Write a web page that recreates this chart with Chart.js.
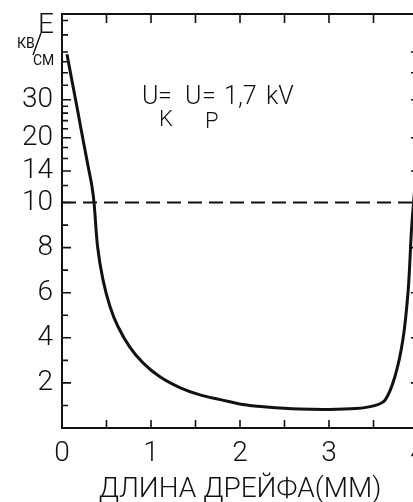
<!DOCTYPE html>
<html><head><meta charset="utf-8">
<script src="https://cdn.jsdelivr.net/npm/chart.js@4.4.1/dist/chart.umd.min.js"></script>
<style>
html,body{margin:0;padding:0;background:#fff;overflow:hidden;width:413px;height:502px;}
#wrap{position:relative;width:430px;height:502px;}
</style></head><body>
<div id="wrap"><canvas id="c" width="430" height="502"></canvas></div>
<script>
// ---- data ----
const driftMm   = [0.056, 0.109, 0.173, 0.236, 0.301, 0.335, 0.36, 0.40, 0.46, 0.54, 0.63, 0.76, 0.91, 1.10, 1.33, 1.55, 1.78, 2.03, 2.30, 2.67, 3.00, 3.30, 3.50, 3.63, 3.74, 3.83, 3.89, 3.925, 3.95, 3.98, 4.01];
const fieldKvCm = [48.8, 37.3, 27.1, 19.6, 14.2, 12.0, 10.0, 8.04, 6.58, 5.38, 4.49, 3.60, 2.89, 2.27, 1.78, 1.47, 1.26, 1.04, 0.93, 0.84, 0.82, 0.86, 0.98, 1.24, 2.27, 3.91, 6.13, 8.67, 10.0, 14.0, 20.0];
const thresholdMm   = [0, 4];
const thresholdKvCm = [10, 10];
const xTickLabels = [0, 1, 2, 3, 4];
const xMinorTicks = [0.5, 1, 1.5, 2, 2.5, 3, 3.5, 4];
const yMajorTicks = [2, 4, 6, 8, 10, 14, 20, 30];
const yMinorTicks = [1, 3, 5, 7, 9, 12, 16, 18, 22, 24, 26, 28, 35, 40, 45, 50, 60, 70];
const yRightTicks = [2, 4, 6, 8, 14, 20, 30, 40, 50];
const yTopKvCm = 75;
const annotationAt = {x: 0.9, y: 28.6};

// ---- axis: linear up to 10, logarithmic above ----
const LIN_TOP = 10, UNITS_PER_DECADE = 9.556;
function fwd(e){ return e <= LIN_TOP ? e : LIN_TOP + UNITS_PER_DECADE * Math.log10(e / LIN_TOP); }
function inv(u){ return u <= LIN_TOP ? u : LIN_TOP * Math.pow(10, (u - LIN_TOP) / UNITS_PER_DECADE); }
class BrokenScale extends Chart.LinearScale {
  static id = 'broken';
  getPixelForValue(v){ return super.getPixelForValue(fwd(v)); }
  getValueForPixel(p){ return inv(super.getValueForPixel(p)); }
}
Chart.register(BrokenScale);

const INK = '#111';
const FONT = 'Roboto';

const decor = {
  id: 'decor',
  afterDraw(chart){
    const {ctx, chartArea: a, scales: {x, y}} = chart;
    ctx.save();
    ctx.strokeStyle = INK; ctx.fillStyle = INK;
    ctx.lineWidth = 2;
    ctx.beginPath();
    ctx.moveTo(a.left - 1, a.top); ctx.lineTo(a.right, a.top); ctx.lineTo(a.right, a.bottom);
    ctx.stroke();
    ctx.lineWidth = 1.6;
    ctx.beginPath();
    yMajorTicks.forEach(v => { const p = y.getPixelForValue(v); ctx.moveTo(a.left, p); ctx.lineTo(a.left + 9, p); });
    yMinorTicks.forEach(v => { const p = y.getPixelForValue(v); ctx.moveTo(a.left, p); ctx.lineTo(a.left + 6, p); });
    yRightTicks.forEach(v => { const p = y.getPixelForValue(v); ctx.moveTo(a.right, p); ctx.lineTo(a.right - 7, p); });
    xMinorTicks.forEach(v => { const p = x.getPixelForValue(v);
      ctx.moveTo(p, a.bottom); ctx.lineTo(p, a.bottom - 8);
      ctx.moveTo(p, a.top); ctx.lineTo(p, a.top + 9); });
    ctx.stroke();

    // unit label
    ctx.textAlign = 'right'; ctx.textBaseline = 'alphabetic';
    ctx.font = `300 28px ${FONT}`;
    ctx.fillText('E', a.left - 8, a.top + 19);
    ctx.textAlign = 'left';
    ctx.font = `400 14px ${FONT}`;
    ctx.fillText('КВ', a.left - 45, a.top + 34);
    ctx.fillText('СМ', a.left - 29, a.top + 51);
    ctx.lineWidth = 1.4;
    ctx.beginPath(); ctx.moveTo(a.left - 21, a.top + 19); ctx.lineTo(a.left - 29, a.top + 41); ctx.stroke();

    // annotation
    const ax = x.getPixelForValue(annotationAt.x), ay = y.getPixelForValue(annotationAt.y);
    ctx.font = `300 25px ${FONT}`;
    ctx.textAlign = 'left';
    ctx.fillText('U', ax, ay);
    ctx.fillText('=', ax + 16, ay);
    ctx.fillText('U', ax + 43, ay);
    ctx.fillText('=', ax + 60, ay);
    ctx.fillText('1,7', ax + 82, ay);
    ctx.fillText('kV', ax + 124, ay);
    ctx.font = `300 22px ${FONT}`;
    ctx.fillText('K', ax + 17, ay + 22);
    ctx.fillText('P', ax + 63, ay + 24);
    ctx.restore();
  }
};

new Chart(document.getElementById('c'), {
  type: 'line',
  data: {
    datasets: [
      {
        data: driftMm.map((v, i) => ({x: v, y: fieldKvCm[i]})),
        borderColor: INK, borderWidth: 3, pointRadius: 0,
        tension: 0.35, fill: false
      },
      {
        data: thresholdMm.map((v, i) => ({x: v, y: thresholdKvCm[i]})),
        borderColor: INK, borderWidth: 2, borderDash: [14, 7], pointRadius: 0, fill: false
      }
    ]
  },
  options: {
    responsive: false, animation: false,
    layout: {padding: {top: 14, right: 12, left: 0, bottom: 0}},
    plugins: {legend: {display: false}, tooltip: {enabled: false}},
    scales: {
      x: {
        type: 'linear', min: 0, max: 4,
        afterBuildTicks: s => { s.ticks = xTickLabels.map(v => ({value: v})); },
        afterFit: s => { s.height = 74; s.paddingLeft = 0; s.paddingRight = 0; },
        grid: {display: false, drawTicks: false},
        border: {display: true, color: INK, width: 2},
        ticks: {font: {family: FONT, weight: '300', size: 28}, color: INK, padding: 9, maxRotation: 0, autoSkip: false},
        title: {display: true, text: 'ДЛИНА ДРЕЙФА(ММ)', color: INK,
                font: {family: FONT, weight: '300', size: 28, lineHeight: 1}, padding: {top: 0, bottom: -2}}
      },
      y: {
        type: 'broken', min: 0, max: fwd(yTopKvCm),
        afterBuildTicks: s => { s.ticks = yMajorTicks.map(v => ({value: v})); },
        afterFit: s => { s.width = 62; s.paddingTop = 0; s.paddingBottom = 0; },
        grid: {display: false, drawTicks: false},
        border: {display: true, color: INK, width: 2},
        ticks: {font: {family: FONT, weight: '300', size: 28}, color: INK, padding: 9, autoSkip: false,
                callback: v => String(v)}
      }
    }
  },
  plugins: [decor]
});
</script>
</body></html>
